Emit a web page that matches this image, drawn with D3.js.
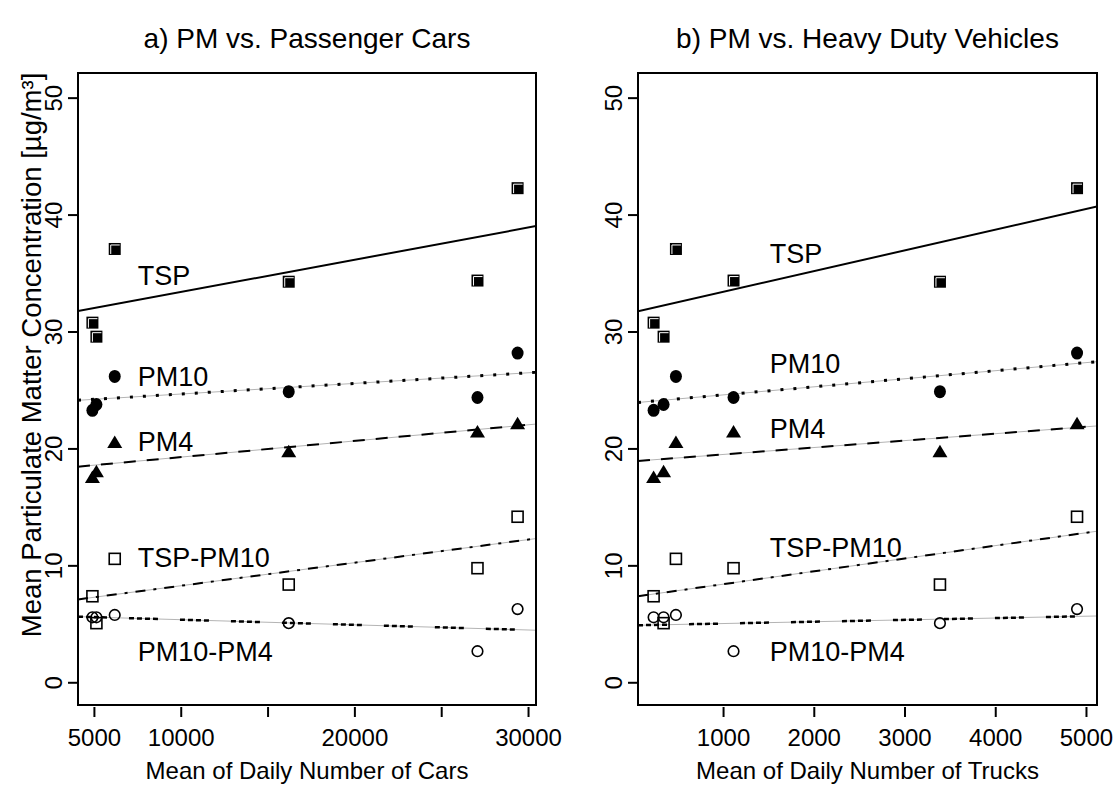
<!DOCTYPE html>
<html>
<head>
<meta charset="utf-8">
<script src="https://cdn.jsdelivr.net/npm/d3@7"></script>
<style>
  html, body { margin: 0; padding: 0; background: #fff; }
  svg { display: block; font-family: "Liberation Sans", Arial, Helvetica, sans-serif; }
</style>
</head>
<body>
<svg id="chart" width="1117" height="786"></svg>
<script>
// Six monitoring sites: mean daily traffic and mean particulate matter concentrations (µg/m³)
const cars = [4885, 5115, 6170, 16190, 27060, 29370];
const trucks = [229, 339, 475, 3385, 1110, 4896];
const tsp = [30.8, 29.6, 37.1, 34.3, 34.4, 42.3];
const pm10 = [23.3, 23.8, 26.2, 24.9, 24.4, 28.2];
const pm4 = [17.6, 18.1, 20.6, 19.8, 21.5, 22.2];
const tspMinusPm10 = [7.4, 5.1, 10.6, 8.4, 9.8, 14.2];
const pm10MinusPm4 = [5.6, 5.6, 5.8, 5.1, 2.7, 6.3];

const seriesNames = ["TSP", "PM10", "PM4", "TSP-PM10", "PM10-PM4"];

// Series label placement (x in each panel's units, y in µg/m³)
const labelXCars = 7500;
const labelXTrucks = 1510;
const labelYCars = [34.8, 26.2, 20.6, 10.7, 2.65];
const labelYTrucks = [36.7, 27.3, 21.7, 11.6, 2.65];

// Axis ticks
const yTicks = [0, 10, 20, 30, 40, 50];
const carTicks = [5000, 10000, 15000, 20000, 25000, 30000];
const carTickLabels = ["5000", "10000", "", "20000", "", "30000"];
const truckTicks = [1000, 2000, 3000, 4000, 5000];
const truckTickLabels = ["1000", "2000", "3000", "4000", "5000"];

const titles = ["a) PM vs. Passenger Cars", "b) PM vs. Heavy Duty Vehicles"];
const xTitles = ["Mean of Daily Number of Cars", "Mean of Daily Number of Trucks"];
const yTitle = "Mean Particulate Matter Concentration [µg/m³]";

const svg = d3.select("#chart");
const plotTop = 73, plotBottom = 705;

const y = d3.scaleLinear().domain([-1.9, 52.15]).range([plotBottom, plotTop]);

const panels = [
  { left: 78, right: 536, domain: [4055, 30430], xs: cars, ticks: carTicks, tickLabels: carTickLabels,
    labelX: labelXCars, labelY: labelYCars },
  { left: 638, right: 1097, domain: [57, 5116], xs: trucks, ticks: truckTicks, tickLabels: truckTickLabels,
    labelX: labelXTrucks, labelY: labelYTrucks }
];

const seriesValues = [tsp, pm10, pm4, tspMinusPm10, pm10MinusPm4];

// Line styles: black pattern drawn over a faint grey trace
const lineStyles = [
  { dash: null, width: 2 },
  { dash: "3,10", width: 3 },
  { dash: "12,11", width: 2 },
  { dash: "10,8,3,8", width: 2 },
  { dash: "5,3,5,3,5,3,5,22", width: 2.5 }
];

function leastSquares(xs, ys) {
  const mx = d3.mean(xs), my = d3.mean(ys);
  let sxy = 0, sxx = 0;
  xs.forEach((xv, i) => { sxy += (xv - mx) * (ys[i] - my); sxx += (xv - mx) * (xv - mx); });
  const slope = sxy / sxx;
  return { slope, intercept: my - slope * mx };
}

// Marker drawers
function drawFilledSquare(g, cx, cy) {
  g.append("rect").attr("x", cx - 6).attr("y", cy - 6).attr("width", 12).attr("height", 12).attr("fill", "#000");
  g.append("path").attr("d", `M${cx - 4},${cy + 5}V${cy - 4}H${cx + 5}`)
    .attr("fill", "none").attr("stroke", "#fff").attr("stroke-width", 1);
}
function drawFilledCircle(g, cx, cy) {
  g.append("ellipse").attr("cx", cx).attr("cy", cy).attr("rx", 6).attr("ry", 6.5).attr("fill", "#000");
}
function drawTriangle(g, cx, cy) {
  g.append("path").attr("d", `M${cx},${cy - 6.5}L${cx - 7.5},${cy + 6}L${cx + 7.5},${cy + 6}Z`).attr("fill", "#000");
}
function drawOpenSquare(g, cx, cy) {
  g.append("rect").attr("x", cx - 5.5).attr("y", cy - 5.5).attr("width", 11).attr("height", 11)
    .attr("fill", "none").attr("stroke", "#000").attr("stroke-width", 1.6);
}
function drawOpenCircle(g, cx, cy) {
  g.append("circle").attr("cx", cx).attr("cy", cy).attr("r", 5.3)
    .attr("fill", "none").attr("stroke", "#000").attr("stroke-width", 1.6);
}
const markers = [drawFilledSquare, drawFilledCircle, drawTriangle, drawOpenSquare, drawOpenCircle];

panels.forEach((p, pi) => {
  const x = d3.scaleLinear().domain(p.domain).range([p.left, p.right]);
  const g = svg.append("g");
  const clipId = "clip" + pi;
  svg.append("clipPath").attr("id", clipId)
    .append("rect").attr("x", p.left).attr("y", plotTop).attr("width", p.right - p.left).attr("height", plotBottom - plotTop);

  // Fitted regression lines across the plot region
  const lines = g.append("g").attr("clip-path", `url(#${clipId})`);
  seriesValues.forEach((vals, si) => {
    const fit = leastSquares(p.xs, vals);
    const x0 = p.domain[0], x1 = p.domain[1];
    const pts = [[x(x0), y(fit.intercept + fit.slope * x0)], [x(x1), y(fit.intercept + fit.slope * x1)]];
    const st = lineStyles[si];
    if (st.dash) {
      lines.append("path").attr("d", d3.line()(pts)).attr("stroke", "#b4b4b4").attr("stroke-width", 1).attr("fill", "none");
      lines.append("path").attr("d", d3.line()(pts)).attr("stroke", "#000").attr("stroke-width", st.width)
        .attr("stroke-dasharray", st.dash).attr("fill", "none");
    } else {
      lines.append("path").attr("d", d3.line()(pts)).attr("stroke", "#000").attr("stroke-width", st.width).attr("fill", "none");
    }
  });

  // Data points
  const pts = g.append("g");
  seriesValues.forEach((vals, si) => {
    vals.forEach((v, i) => markers[si](pts, x(p.xs[i]), y(v)));
  });

  // Series labels
  seriesNames.forEach((name, si) => {
    g.append("text").attr("x", x(p.labelX)).attr("y", y(p.labelY[si]))
      .attr("dy", "0.35em").attr("font-size", 27).attr("fill", "#000").text(name);
  });

  // Plot frame
  g.append("rect").attr("x", p.left).attr("y", plotTop).attr("width", p.right - p.left).attr("height", plotBottom - plotTop)
    .attr("fill", "none").attr("stroke", "#000").attr("stroke-width", 2);

  // Y axis: ticks and rotated labels
  yTicks.forEach(t => {
    g.append("line").attr("x1", p.left - 10).attr("x2", p.left).attr("y1", y(t)).attr("y2", y(t))
      .attr("stroke", "#000").attr("stroke-width", 2);
    g.append("text").attr("transform", `translate(${p.left - 24},${y(t)}) rotate(-90)`)
      .attr("text-anchor", "middle").attr("dy", "0.35em").attr("font-size", 24).text(t);
  });

  // X axis: ticks below the frame and labels
  p.ticks.forEach((t, i) => {
    g.append("line").attr("x1", x(t)).attr("x2", x(t)).attr("y1", 707).attr("y2", 717)
      .attr("stroke", "#000").attr("stroke-width", 2);
    if (p.tickLabels[i]) {
      g.append("text").attr("x", x(t)).attr("y", 746).attr("text-anchor", "middle")
        .attr("font-size", 24).text(p.tickLabels[i]);
    }
  });

  const cx = (p.left + p.right) / 2;
  g.append("text").attr("x", cx).attr("y", 779).attr("text-anchor", "middle").attr("font-size", 24).text(xTitles[pi]);
  g.append("text").attr("x", cx).attr("y", 48).attr("text-anchor", "middle").attr("font-size", 28).text(titles[pi]);
});

// Shared y axis title
svg.append("text").attr("transform", "translate(31,355) rotate(-90)")
  .attr("text-anchor", "middle").attr("dy", "0.35em").attr("font-size", 27.5).text(yTitle);
</script>
</body>
</html>
